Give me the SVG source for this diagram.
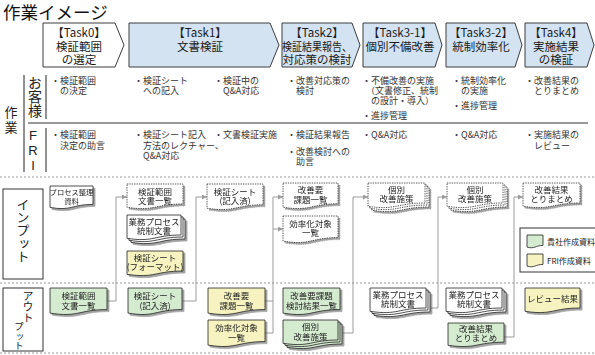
<svg xmlns="http://www.w3.org/2000/svg" width="595" height="355" viewBox="0 0 595 355">
<defs>
<style>
text{font-family:'Noto Sans CJK JP','Noto Sans',sans-serif;}
.title{font-size:17.5px;fill:#111}
.task{stroke:#3c3c3c;stroke-width:1;fill:#d4e3f2}
.task0{fill:#fff}
.tt{font-size:11.5px;fill:#1a1a1a;text-anchor:middle}
.b{font-size:9px;fill:#333}
.vert{writing-mode:vertical-rl;fill:#222}
.fri{font-family:'Liberation Sans',sans-serif;font-size:13px;fill:#222;writing-mode:vertical-rl;text-orientation:upright}
.ln{stroke:#222;stroke-width:1}
.sep{stroke:#999;stroke-width:1;stroke-dasharray:2 2}
.doc{stroke:#222;stroke-width:0.8;fill:#fff}
.dot{stroke-dasharray:1.3 1.1}
.gr{fill:#d5ebd0}
.ye{fill:#f6f3c0}
.dt{font-size:8.5px;fill:#222;text-anchor:middle}
.conn{stroke:#9c9c9c;stroke-width:1;fill:none}
.box{fill:#fff;stroke:#333;stroke-width:1}
</style>
<filter id="sh" x="-10%" y="-10%" width="130%" height="140%">
<feDropShadow dx="2" dy="2" stdDeviation="0.5" flood-color="#555" flood-opacity="0.55"/>
</filter>
<marker id="arr" viewBox="0 0 6 6" refX="6" refY="3" markerWidth="5" markerHeight="5" orient="auto" markerUnits="userSpaceOnUse">
<path d="M0,0 L6,3 L0,6 Z" fill="#9c9c9c"/>
</marker>
</defs>

<text class="title" x="3" y="19">作業イメージ</text>

<!-- Task row -->
<g id="task0">
<path class="task task0" d="M43 23 H115 L124 45 L115 67 H43 Z"/>
<text class="tt"><tspan x="79" y="37">【Task0】</tspan><tspan x="79" y="50.5">検証範囲</tspan><tspan x="79" y="63.5">の選定</tspan></text>
</g>
<g id="task1">
<path class="task" d="M129 23 H270 L279 45 L270 67 H129 Z"/>
<text class="tt"><tspan x="200" y="37">【Task1】</tspan><tspan x="200" y="50.5">文書検証</tspan></text>
</g>
<g id="task2">
<path class="task" d="M282 23 H352 L360 45 L352 67 H282 Z"/>
<text class="tt"><tspan x="317" y="37">【Task2】</tspan></text>
<text class="tt" x="317" y="50.5" textLength="70" lengthAdjust="spacingAndGlyphs">検証結果報告、</text>
<text class="tt" x="317" y="63.5">対応策の検討</text>
</g>
<g id="task3-1">
<path class="task" d="M363 23 H435 L442 45 L435 67 H363 Z"/>
<text class="tt"><tspan x="400" y="37">【Task3-1】</tspan><tspan x="400" y="50.5">個別不備改善</tspan></text>
</g>
<g id="task3-2">
<path class="task" d="M446 23 H515 L522 45 L515 67 H446 Z"/>
<text class="tt"><tspan x="481" y="37">【Task3-2】</tspan><tspan x="481" y="50.5">統制効率化</tspan></text>
</g>
<g id="task4">
<path class="task" d="M525 23 H587 L594 45 L587 67 H525 Z"/>
<text class="tt"><tspan x="556" y="37">【Task4】</tspan><tspan x="556" y="50.5">実施結果</tspan><tspan x="556" y="63.5">の検証</tspan></text>
</g>

<!-- 作業 section -->
<g id="work-labels">
<text class="vert" x="11" y="106" style="font-size:13px;letter-spacing:2px">作業</text>
<line class="ln" x1="24" y1="75" x2="24" y2="172"/>
<text class="vert" x="35" y="76" style="font-size:14px">お客様</text>
<line class="ln" x1="46" y1="75" x2="46" y2="119"/>
<line x1="28" y1="123" x2="588" y2="123" stroke="#999" stroke-width="1.8"/>
<text class="fri" x="33" y="128">FRI</text>
<line class="ln" x1="46" y1="128" x2="46" y2="172"/>
</g>

<g id="customer-tasks">
<text class="b"><tspan x="51" y="84">・検証範囲</tspan><tspan x="60" y="94">の決定</tspan></text>
<text class="b"><tspan x="134" y="84">・検証シート</tspan><tspan x="143" y="94">への記入</tspan></text>
<text class="b"><tspan x="214" y="84">・検証中の</tspan><tspan x="223" y="94">Q&amp;A対応</tspan></text>
<text class="b"><tspan x="287" y="84">・改善対応策の</tspan><tspan x="296" y="94">検討</tspan></text>
<text class="b"><tspan x="362" y="84">・不備改善の実施</tspan><tspan x="366" y="94">（文書修正、統制</tspan><tspan x="371" y="104">の設計・導入）</tspan><tspan x="362" y="119">・進捗管理</tspan></text>
<text class="b"><tspan x="452" y="84">・統制効率化</tspan><tspan x="461" y="94">の実施</tspan><tspan x="452" y="109">・進捗管理</tspan></text>
<text class="b"><tspan x="525" y="84">・改善結果の</tspan><tspan x="534" y="94">とりまとめ</tspan></text>
</g>

<g id="fri-tasks">
<text class="b"><tspan x="51" y="138">・検証範囲</tspan><tspan x="60" y="148.5">決定の助言</tspan></text>
<text class="b"><tspan x="134" y="138">・検証シート記入</tspan><tspan x="143" y="148.5">方法のレクチャー、</tspan><tspan x="143" y="159">Q&amp;A対応</tspan></text>
<text class="b" x="214" y="138">・文書検証実施</text>
<text class="b"><tspan x="287" y="138">・検証結果報告</tspan><tspan x="287" y="155">・改善検討への</tspan><tspan x="296" y="165">助言</tspan></text>
<text class="b" x="362" y="138">・Q&amp;A対応</text>
<text class="b" x="452" y="138">・Q&amp;A対応</text>
<text class="b"><tspan x="525" y="138">・実施結果の</tspan><tspan x="534" y="148.5">レビュー</tspan></text>
</g>

<!-- separators -->
<g id="separators">
<line class="sep" x1="0" y1="177" x2="595" y2="177"/>
<line class="sep" x1="0" y1="283" x2="595" y2="283"/>
<line class="sep" x1="0" y1="353" x2="595" y2="353"/>
</g>

<g id="input-label">
<rect class="box" x="3" y="189" width="40" height="90"/>
<text class="vert" x="23" y="198" style="font-size:13px">インプット</text>
</g>
<g id="output-label">
<rect class="box" x="3" y="288" width="40" height="63"/>
<text class="vert" x="28" y="290" style="font-size:11px">アウト</text>
<text class="vert" x="19" y="322" style="font-size:9.5px">プット</text>
</g>

<!-- connectors -->
<g id="connectors">
<path class="conn" d="M107 301 H116 V197 H127" marker-end="url(#arr)"/>
<path class="conn" d="M182 301 H196 V197 H207" marker-end="url(#arr)"/>
<path class="conn" d="M265 301 H273"/>
<path class="conn" d="M265 333 H273 V197 H283" marker-end="url(#arr)"/>
<path class="conn" d="M273 229 H283" marker-end="url(#arr)"/>
<path class="conn" d="M342 333 H353 V197 H368" marker-end="url(#arr)"/>
<path class="conn" d="M430 308 H438 V197 H447" marker-end="url(#arr)"/>
<path class="conn" d="M504 337 H514 V197 H523" marker-end="url(#arr)"/>
</g>

<!-- inputs -->
<g id="in-process" filter="url(#sh)">
<path class="doc" d="M50 186 H93 V204.4 C71.5 204.4 71.5 211.3 50 207.4 Z"/>
<text class="dt" style="font-size:7.3px"><tspan x="71.5" y="195">プロセス整理</tspan><tspan x="71.5" y="203.5">資料</tspan></text>
</g>
<g id="in-scope-list" filter="url(#sh)">
<path class="doc dot" d="M127 184 H183 V204 C155 204 155 211.5 127 207.3 Z"/>
<text class="dt"><tspan x="155" y="194.5">検証範囲</tspan><tspan x="155" y="203.5">文書一覧</tspan></text>
</g>
<g id="in-control-docs" filter="url(#sh)">
<path class="doc" d="M131 219 H185 V239 C158 239 158 246.5 131 242.3 Z"/>
<path class="doc" d="M129 217 H183 V237 C156 237 156 244.5 129 240.3 Z"/>
<path class="doc" d="M127 215 H181 V235 C154 235 154 242.5 127 238.3 Z"/>
<text class="dt"><tspan x="154" y="225">業務プロセス</tspan><tspan x="154" y="234">統制文書</tspan></text>
</g>
<g id="in-sheet-format" filter="url(#sh)">
<path class="doc ye" d="M127 251 H183 V271 C155 271 155 278.5 127 274.3 Z"/>
<text class="dt"><tspan x="155" y="261">検証シート</tspan><tspan x="155" y="270">(フォーマット)</tspan></text>
</g>
<g id="in-sheet-filled" filter="url(#sh)">
<path class="doc dot" d="M207 184 H263 V204.8 C235 204.8 235 212.6 207 208.2 Z"/>
<text class="dt"><tspan x="235" y="194.5">検証シート</tspan><tspan x="235" y="203.5">(記入済)</tspan></text>
</g>
<g id="in-issue-list" filter="url(#sh)">
<path class="doc dot" d="M283 183 H338 V203.8 C310.5 203.8 310.5 211.6 283 207.2 Z"/>
<text class="dt"><tspan x="310.5" y="193">改善要</tspan><tspan x="310.5" y="202.5">課題一覧</tspan></text>
</g>
<g id="in-efficiency-list" filter="url(#sh)">
<path class="doc dot" d="M283 216 H338 V237.6 C310.5 237.6 310.5 245.7 283 241.1 Z"/>
<text class="dt"><tspan x="310.5" y="226.5">効率化対象</tspan><tspan x="310.5" y="236">一覧</tspan></text>
</g>
<g id="in-measures-1" filter="url(#sh)">
<path class="doc dot" d="M372 187 H429 V207 C400.5 207 400.5 214.5 372 210.3 Z"/>
<path class="doc dot" d="M370 185 H427 V205 C398.5 205 398.5 212.5 370 208.3 Z"/>
<path class="doc dot" d="M368 183 H425 V203 C396.5 203 396.5 210.5 368 206.3 Z"/>
<text class="dt"><tspan x="396.5" y="193">個別</tspan><tspan x="396.5" y="202">改善施策</tspan></text>
</g>
<g id="in-measures-2" filter="url(#sh)">
<path class="doc dot" d="M451 187 H507 V207 C479 207 479 214.5 451 210.3 Z"/>
<path class="doc dot" d="M449 185 H505 V205 C477 205 477 212.5 449 208.3 Z"/>
<path class="doc dot" d="M447 183 H503 V203 C475 203 475 210.5 447 206.3 Z"/>
<text class="dt"><tspan x="475" y="193">個別</tspan><tspan x="475" y="202">改善施策</tspan></text>
</g>
<g id="in-results" filter="url(#sh)">
<path class="doc dot" d="M523 183 H580 V203 C551.5 203 551.5 210.5 523 206.3 Z"/>
<text class="dt"><tspan x="551.5" y="193">改善結果</tspan><tspan x="551.5" y="202">とりまとめ</tspan></text>
</g>

<!-- legend -->
<g id="legend">
<rect class="box" x="520" y="228" width="80" height="44" stroke="#555"/>
<path class="doc gr" d="M527 235 H543 V245.4 C535 245.4 535 249.3 527 247.1 Z"/>
<text class="dt" x="547" y="245" style="font-size:8px;text-anchor:start">貴社作成資料</text>
<path class="doc ye" d="M527 254 H543 V264.4 C535 264.4 535 268.3 527 266.1 Z"/>
<text class="dt" x="547" y="264" style="font-size:8px;text-anchor:start">FRI作成資料</text>
</g>

<!-- outputs -->
<g id="out-scope-list" filter="url(#sh)">
<path class="doc gr" d="M50 288 H107 V309.6 C78.5 309.6 78.5 317.7 50 313.1 Z"/>
<text class="dt"><tspan x="78.5" y="299">検証範囲</tspan><tspan x="78.5" y="309">文書一覧</tspan></text>
</g>
<g id="out-sheet-filled" filter="url(#sh)">
<path class="doc gr" d="M128 288 H182 V309.6 C155 309.6 155 317.7 128 313.1 Z"/>
<text class="dt"><tspan x="155" y="299">検証シート</tspan><tspan x="155" y="309">(記入済)</tspan></text>
</g>
<g id="out-issue-list" filter="url(#sh)">
<path class="doc ye" d="M208 288 H265 V309.6 C236.5 309.6 236.5 317.7 208 313.1 Z"/>
<text class="dt"><tspan x="236.5" y="299">改善要</tspan><tspan x="236.5" y="309">課題一覧</tspan></text>
</g>
<g id="out-efficiency-list" filter="url(#sh)">
<path class="doc ye" d="M208 320 H265 V341.6 C236.5 341.6 236.5 349.7 208 345.1 Z"/>
<text class="dt"><tspan x="236.5" y="331">効率化対象</tspan><tspan x="236.5" y="341">一覧</tspan></text>
</g>
<g id="out-issue-review" filter="url(#sh)">
<path class="doc gr" d="M283 288 H340 V309.6 C311.5 309.6 311.5 317.7 283 313.1 Z"/>
<text class="dt"><tspan x="311.5" y="299">改善要課題</tspan><tspan x="311.5" y="309">検討結果一覧</tspan></text>
</g>
<g id="out-measures" filter="url(#sh)">
<path class="doc gr" d="M287 324 H342 V344 C314.5 344 314.5 351.5 287 347.3 Z"/>
<path class="doc gr" d="M285 322 H340 V342 C312.5 342 312.5 349.5 285 345.3 Z"/>
<path class="doc gr" d="M283 320 H338 V340 C310.5 340 310.5 347.5 283 343.3 Z"/>
<text class="dt"><tspan x="310.5" y="330">個別</tspan><tspan x="310.5" y="340">改善施策</tspan></text>
</g>
<g id="out-control-docs-1" filter="url(#sh)">
<path class="doc" d="M374 292 H430 V312 C402 312 402 319.5 374 315.3 Z"/>
<path class="doc" d="M372 290 H428 V310 C400 310 400 317.5 372 313.3 Z"/>
<path class="doc" d="M370 288 H426 V308 C398 308 398 315.5 370 311.3 Z"/>
<text class="dt"><tspan x="398" y="298">業務プロセス</tspan><tspan x="398" y="307">統制文書</tspan></text>
</g>
<g id="out-control-docs-2" filter="url(#sh)">
<path class="doc" d="M450 292 H506 V312 C478 312 478 319.5 450 315.3 Z"/>
<path class="doc" d="M448 290 H504 V310 C476 310 476 317.5 448 313.3 Z"/>
<path class="doc" d="M446 288 H502 V308 C474 308 474 315.5 446 311.3 Z"/>
<text class="dt"><tspan x="474" y="298">業務プロセス</tspan><tspan x="474" y="307">統制文書</tspan></text>
</g>
<g id="out-results" filter="url(#sh)">
<path class="doc gr" d="M448 323 H504 V342.2 C476 342.2 476 349.4 448 345.3 Z"/>
<text class="dt"><tspan x="476" y="332">改善結果</tspan><tspan x="476" y="341">とりまとめ</tspan></text>
</g>
<g id="out-review" filter="url(#sh)">
<path class="doc ye" d="M525 288 H580 V308 C552.5 308 552.5 315.5 525 311.3 Z"/>
<text class="dt" x="552.5" y="302">レビュー結果</text>
</g>
</svg>
